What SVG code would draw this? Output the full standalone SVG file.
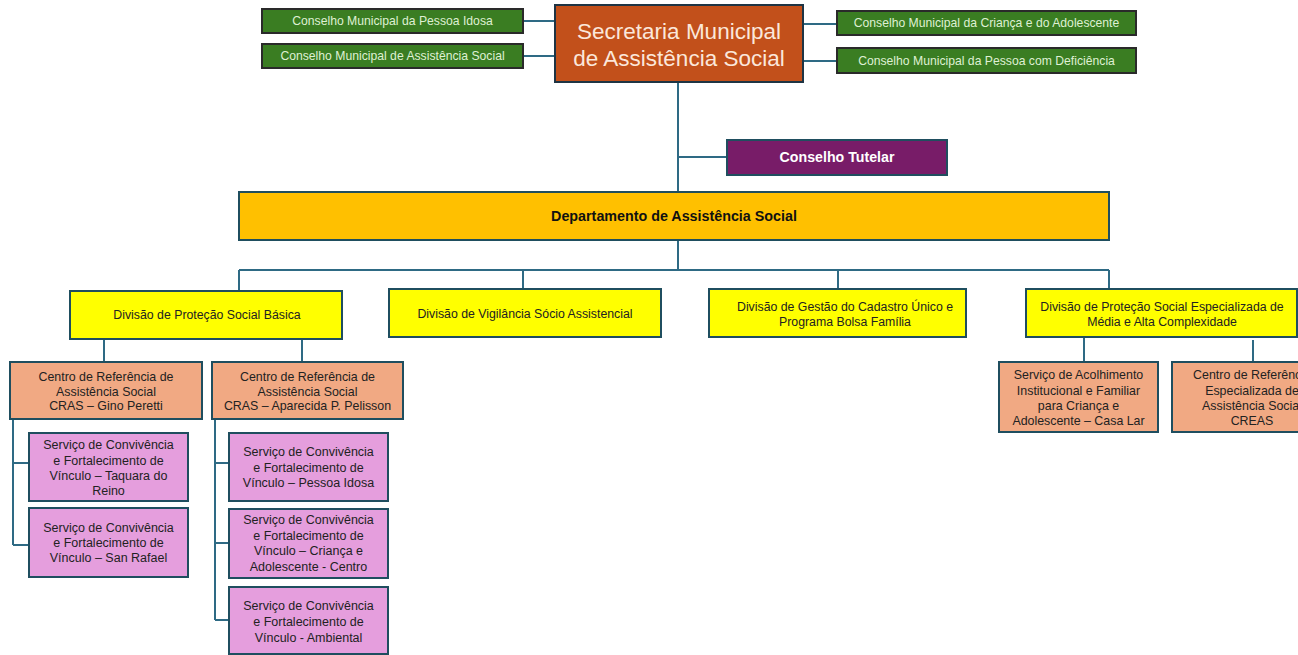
<svg xmlns="http://www.w3.org/2000/svg" width="1298" height="655" viewBox="0 0 1298 655">
  <style>
    text { font-family: "Liberation Sans", Arial, sans-serif; text-anchor: middle; dominant-baseline: central; }
    .green rect { fill: #3a7d22; stroke: #2a2a2a; stroke-width: 2; }
    .green text { fill: #dff0d3; font-size: 12.2px; }
    .sec rect { fill: #c2501b; stroke: #1e3444; stroke-width: 2; }
    .sec text { fill: #fbe7da; font-size: 22.5px; }
    .tut rect { fill: #781c68; stroke: #1f4e5f; stroke-width: 2; }
    .tut text { fill: #ffffff; font-size: 14.2px; font-weight: bold; }
    .dept rect { fill: #ffc000; stroke: #1f4e5f; stroke-width: 2; }
    .dept text { fill: #111; font-size: 14.3px; font-weight: bold; }
    .div rect { fill: #ffff00; stroke: #1f4e5f; stroke-width: 2; }
    .div text { fill: #222; font-size: 12.3px; }
    .ctr rect { fill: #f1a983; stroke: #1f4e5f; stroke-width: 2; }
    .ctr text { fill: #222; font-size: 12.4px; }
    .svc rect { fill: #e59edd; stroke: #1f4e5f; stroke-width: 2; }
    .svc text { fill: #222; font-size: 12.5px; }
    #connectors path { fill: none; stroke: #2e6a84; stroke-width: 2; }
  </style>

  <!-- connectors -->
  <g id="connectors">
    <path d="M523 21H555 M523 56H555 M803 24H837 M803 61H837"/>
    <path d="M678 82V192 M678 157H727"/>
    <path d="M678 240V270 M239 270H1109 M239 270V291 M523 270V289 M838 270V289 M1109 270V289"/>
    <path d="M104 339V362 M302 339V362"/>
    <path d="M1084 337V362 M1253 340V362"/>
    <path d="M13 419V545 M13 463H29 M13 545H29"/>
    <path d="M215 419V620 M215 463H229 M215 543H229 M215 620H229"/>
  </g>

  <!-- council boxes around the secretariat -->
  <g id="cm-idosa" class="green">
    <rect x="262" y="9" width="261" height="24"/>
    <text x="392.5" y="21">Conselho Municipal da Pessoa Idosa</text>
  </g>
  <g id="cm-assistencia" class="green">
    <rect x="262" y="44" width="261" height="24"/>
    <text x="392.5" y="56">Conselho Municipal de Assistência Social</text>
  </g>
  <g id="cm-crianca" class="green">
    <rect x="837" y="11" width="299" height="24"/>
    <text x="986.5" y="23">Conselho Municipal da Criança e do Adolescente</text>
  </g>
  <g id="cm-deficiencia" class="green">
    <rect x="837" y="48" width="299" height="25"/>
    <text x="986.5" y="61">Conselho Municipal da Pessoa com Deficiência</text>
  </g>

  <!-- secretariat -->
  <g id="secretaria" class="sec">
    <rect x="555" y="5" width="248" height="77"/>
    <text x="679" y="31">Secretaria Municipal</text>
    <text x="679" y="58">de Assistência Social</text>
  </g>

  <g id="conselho-tutelar" class="tut">
    <rect x="727" y="140" width="220" height="35"/>
    <text x="837" y="157">Conselho Tutelar</text>
  </g>

  <g id="departamento" class="dept">
    <rect x="239" y="192" width="870" height="48"/>
    <text x="674" y="216">Departamento de Assistência Social</text>
  </g>

  <!-- divisions -->
  <g id="div-basica" class="div">
    <rect x="70" y="291" width="272" height="48"/>
    <text x="207" y="315">Divisão de Proteção Social Básica</text>
  </g>
  <g id="div-vigilancia" class="div">
    <rect x="389" y="289" width="272" height="48"/>
    <text x="525" y="314">Divisão de Vigilância Sócio Assistencial</text>
  </g>
  <g id="div-cadastro" class="div">
    <rect x="709" y="289" width="257" height="48"/>
    <text x="845" y="307">Divisão de Gestão do Cadastro Único e</text>
    <text x="845" y="322">Programa Bolsa Família</text>
  </g>
  <g id="div-especializada" class="div">
    <rect x="1026" y="289" width="271" height="48"/>
    <text x="1162" y="307">Divisão de Proteção Social Especializada de</text>
    <text x="1162" y="322">Média e Alta Complexidade</text>
  </g>

  <!-- reference centres -->
  <g id="cras-gino" class="ctr">
    <rect x="10" y="362" width="192" height="57"/>
    <text x="106" y="377">Centro de Referência de</text>
    <text x="106" y="391.5">Assistência Social</text>
    <text x="106" y="406">CRAS – Gino Peretti</text>
  </g>
  <g id="cras-aparecida" class="ctr">
    <rect x="212" y="362" width="191" height="57"/>
    <text x="307.5" y="377">Centro de Referência de</text>
    <text x="307.5" y="391.5">Assistência Social</text>
    <text x="307.5" y="406">CRAS – Aparecida P. Pelisson</text>
  </g>
  <g id="casa-lar" class="ctr">
    <rect x="999" y="362" width="159" height="70"/>
    <text x="1078.5" y="375">Serviço de Acolhimento</text>
    <text x="1078.5" y="390.5">Institucional e Familiar</text>
    <text x="1078.5" y="406">para Criança e</text>
    <text x="1078.5" y="421">Adolescente – Casa Lar</text>
  </g>
  <!-- runs past the right edge of the page -->
  <g id="creas" class="ctr">
    <rect x="1172" y="362" width="160" height="70"/>
    <text x="1252" y="375">Centro de Referência</text>
    <text x="1252" y="390.5">Especializada de</text>
    <text x="1252" y="406">Assistência Social</text>
    <text x="1252" y="421">CREAS</text>
  </g>

  <!-- services -->
  <g id="scfv-taquara" class="svc">
    <rect x="29" y="433" width="159" height="68"/>
    <text x="108.5" y="445">Serviço de Convivência</text>
    <text x="108.5" y="460.5">e Fortalecimento de</text>
    <text x="108.5" y="476">Vínculo – Taquara do</text>
    <text x="108.5" y="491">Reino</text>
  </g>
  <g id="scfv-san-rafael" class="svc">
    <rect x="29" y="508" width="159" height="69"/>
    <text x="108.5" y="528">Serviço de Convivência</text>
    <text x="108.5" y="543">e Fortalecimento de</text>
    <text x="108.5" y="558">Vínculo – San Rafael</text>
  </g>
  <g id="scfv-pessoa-idosa" class="svc">
    <rect x="229" y="433" width="159" height="68"/>
    <text x="308.5" y="452">Serviço de Convivência</text>
    <text x="308.5" y="467.5">e Fortalecimento de</text>
    <text x="308.5" y="483">Vínculo – Pessoa Idosa</text>
  </g>
  <g id="scfv-crianca" class="svc">
    <rect x="229" y="509" width="159" height="69"/>
    <text x="308.5" y="520">Serviço de Convivência</text>
    <text x="308.5" y="535.5">e Fortalecimento de</text>
    <text x="308.5" y="551">Vínculo – Criança e</text>
    <text x="308.5" y="566.5">Adolescente - Centro</text>
  </g>
  <g id="scfv-ambiental" class="svc">
    <rect x="229" y="587" width="159" height="67"/>
    <text x="308.5" y="606">Serviço de Convivência</text>
    <text x="308.5" y="622">e Fortalecimento de</text>
    <text x="308.5" y="638">Vínculo - Ambiental</text>
  </g>
</svg>
